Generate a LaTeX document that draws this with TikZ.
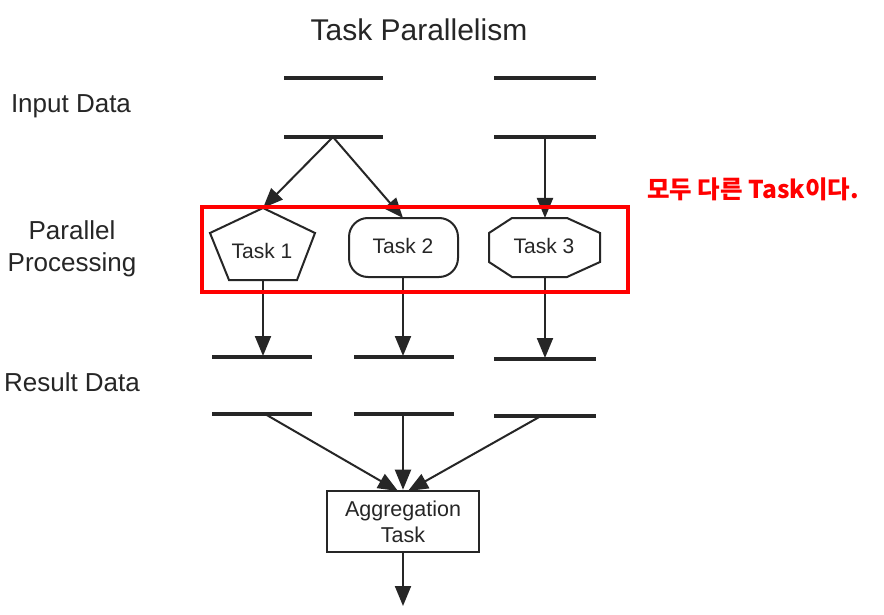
\documentclass[tikz,border=0pt]{standalone}
\usepackage{fontspec}
\setmainfont{Liberation Sans}
\newfontfamily\krfont{Noto Sans CJK KR}
\usetikzlibrary{arrows.meta}
\definecolor{ink}{HTML}{262626}
\begin{document}
\begin{tikzpicture}[x=1pt,y=-1pt,
  bar/.style={draw=ink,line width=3.2pt},
  shp/.style={draw=ink,line width=2pt,fill=white},
  conn/.style={draw=ink,line width=2pt,-{Triangle[length=20pt,width=16pt]}},
  lbl/.style={text=ink,font=\fontsize{26}{30}\selectfont,inner sep=0pt},
  tlabel/.style={text=ink,font=\fontsize{21}{24}\selectfont,inner sep=0pt}]
\useasboundingbox (0,0) rectangle (884,615);
\fill[white] (0,0) rectangle (884,615);

% title and row labels
\node[text=ink,font=\fontsize{30}{34}\selectfont,inner sep=0pt] (title) at (419,30) {Task Parallelism};
\node[lbl] (inlbl) at (71,106) {Input Data};
\node[lbl,align=center,font=\fontsize{26}{32}\selectfont] (pplbl) at (72,249) {Parallel\\Processing};
\node[lbl] (reslbl) at (72,382) {Result Data};

% input data bars
\coordinate (i1a) at (333,78);  \coordinate (i2a) at (545,78);
\coordinate (i1b) at (333,137); \coordinate (i2b) at (545,137);
\draw[bar] (284,78) -- (383,78);
\draw[bar] (494,78) -- (596,78);
\draw[bar] (284,137) -- (383,137);
\draw[bar] (494,137) -- (596,137);

% Task 1 pentagon
\draw[shp] (263,208) -- (315,233) -- (297,280) -- (229,280) -- (210,233) -- cycle;
\node[tlabel] (t1) at (262,251) {Task 1};
\coordinate (t1top) at (263,208);
\coordinate (t1bot) at (263,280);

% Task 2 rounded rectangle
\draw[shp,rounded corners=19pt] (349,218) rectangle (458,277);
\node[tlabel] (t2) at (403,246) {Task 2};
\coordinate (t2top) at (403,218);
\coordinate (t2bot) at (403,277);

% Task 3 octagon
\draw[shp] (512,218) -- (567,218) -- (600,233) -- (600,262) -- (567,277) -- (512,277) -- (489,262) -- (489,233) -- cycle;
\node[tlabel] (t3) at (544,246) {Task 3};
\coordinate (t3top) at (545,218);
\coordinate (t3bot) at (545,277);

% arrows input -> tasks
\draw[conn] (i1b) -- (t1top);
\draw[conn] (i1b) -- (t2top);
\draw[conn] (i2b) -- (t3top);

% result bars
\coordinate (r1a) at (263,356); \coordinate (r2a) at (403,356); \coordinate (r3a) at (545,358);
\coordinate (r1b) at (265,414); \coordinate (r2b) at (403,414); \coordinate (r3b) at (541,416);
\draw[bar] (212,357) -- (312,357);
\draw[bar] (354,357) -- (454,357);
\draw[bar] (494,359) -- (596,359);
\draw[bar] (212,414) -- (312,414);
\draw[bar] (354,414) -- (454,414);
\draw[bar] (494,416) -- (596,416);

\draw[conn] (t1bot) -- (r1a);
\draw[conn] (t2bot) -- (r2a);
\draw[conn] (t3bot) -- (r3a);

% aggregation task
\node[draw=ink,line width=2.6pt,minimum width=152pt,minimum height=61pt,inner sep=0pt,align=center,
      text=ink,font=\fontsize{21.5}{26}\selectfont] (agg) at (403,521.5) {Aggregation\\Task};
\coordinate (a1) at (398,491);
\coordinate (a3) at (408,491);
\coordinate (out) at (403,606);
\draw[conn] (r1b) -- (a1);
\draw[conn] (r2b) -- (agg.north);
\draw[conn] (r3b) -- (a3);
\draw[conn] (agg.south) -- (out);

% red highlight
\draw[red,line width=3.2pt] (202,207) rectangle (628,292);
\node[text=red,font=\krfont\bfseries\fontsize{24.5}{28}\selectfont,inner sep=0pt,anchor=west] (note) at (647,189) {모두 다른 Task이다.};
\end{tikzpicture}
\end{document}
